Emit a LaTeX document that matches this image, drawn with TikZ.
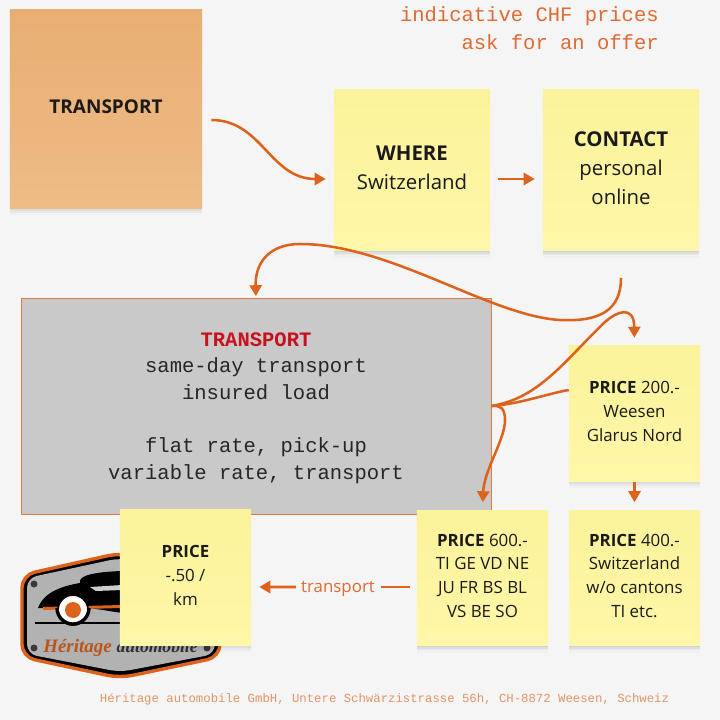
\documentclass[tikz,border=0pt]{standalone}
\usepackage{fontspec}
\setmainfont{Open Sans}
\setmonofont{Liberation Mono}
\newfontfamily\logofont{Liberation Serif}
\usetikzlibrary{positioning,arrows.meta,shadows}
\definecolor{hdOrange}{HTML}{DD631D}
\definecolor{hdText}{HTML}{E06A33}
\definecolor{hdFoot}{HTML}{E39468}
\definecolor{hdPaper}{HTML}{F5F5F5}
\definecolor{hdGray}{HTML}{C9C9C9}
\definecolor{hdRed}{HTML}{C8101E}
\definecolor{hdInk}{HTML}{1A1A1A}
\definecolor{noteTop}{HTML}{FBF29B}
\definecolor{noteBot}{HTML}{FFF7A8}
\definecolor{peachTop}{HTML}{E8AE72}
\definecolor{peachBot}{HTML}{EEBC86}
\begin{document}
\begin{tikzpicture}[x=0.025cm,y=-0.025cm,font=\fontsize{12}{17}\selectfont,text=hdInk,
      softshadow/.style={general shadow={shadow yshift=-1pt,fill=black,opacity=.05},
        general shadow={shadow yshift=-2.2pt,fill=black,opacity=.04},
        general shadow={shadow yshift=-3.5pt,fill=black,opacity=.03},
        general shadow={shadow yshift=-5pt,fill=black,opacity=.02}},
      note/.style={softshadow,top color=noteTop,bottom color=noteBot,draw=none,align=center,inner sep=0pt,text depth=3.2pt},
      small/.style={note,minimum width=3.275cm,minimum height=3.375cm},
      large/.style={note,minimum width=3.9cm,minimum height=4.025cm,font=\fontsize{14.5}{20.6}\selectfont},
      conn/.style={-{Triangle[length=7.8pt,width=8.6pt]},hdOrange,line width=1.8pt},
      plain/.style={hdOrange,line width=1.8pt},
      mono/.style={font=\ttfamily\fontsize{14.6}{19}\selectfont,align=center}]
      \fill[hdPaper] (0,0) rectangle (720,720);
      \useasboundingbox (0,0) rectangle (720,720);
      % logo
      \draw[rounded corners=9pt,draw=hdOrange,line width=2.4pt,fill=black] (22,575)--(120,553)--(220,575)--(220,657)--(120,678)--(22,657)--cycle;
      \fill[rounded corners=7pt,fill=gray!60] (27,578)--(120,558)--(215,578)--(215,654)--(120,672)--(27,654)--cycle;
      \fill[black] (38,608) .. controls (44,592) and (62,586) .. (80,583) .. controls (78,576) and (92,572) .. (122,571) -- (122,613) -- (90,608) -- (55,608) -- cycle;
      \fill[gray!40] (90,587) -- (122,585) -- (122,590) -- (96,591) -- cycle;
      \fill[hdOrange] (43,607) -- (122,605) -- (122,608) -- (43,610) -- cycle;
      \draw[black,line width=1.3pt] (35,623)--(122,623);
      \draw[black,line width=1.2pt,fill=white] (73,610) circle (15);
      \fill[hdOrange] (73,610) circle (8);
      \draw[black,line width=2.4pt] (57,608) arc[start angle=180,end angle=0,radius=16];
      \fill[gray!45!black] (34,584) circle (3.5) (34,648) circle (3.5) (207,648) circle (3.5);
      \node[font=\logofont\bfseries\itshape\fontsize{13.5}{14}\selectfont,text=hdOrange!85!black,anchor=west,inner sep=0pt] (logotext) at (43,648) {Héritage \fontsize{12.5}{12}\selectfont\textcolor{black!80}{automobile}};
      % boxes
      \node[note,top color=peachTop,bottom color=peachBot,minimum width=4.8cm,minimum height=4.95cm,font=\bfseries\fontsize{13.5}{17}\selectfont,text depth=3pt] (start) at (106,109) {TRANSPORT};
      \node[large] (where) at (412,170) {\textbf{WHERE}\\Switzerland};
      \node[large] (contact) at (621,170) {\textbf{CONTACT}\\personal\\online};
      \node[mono,draw=hdOrange!85,fill=hdGray,line width=0.6pt,minimum width=11.75cm,minimum height=5.4cm,inner sep=0pt,text=black!85,text depth=0pt] (info) at (256,406) {\textbf{\textcolor{hdRed}{TRANSPORT}}\\same-day transport\\insured load\\[19pt]flat rate, pick-up\\variable rate, transport};
      \node[small] (pweesen) at (634.5,413.5) {\textbf{PRICE} 200.-\\Weesen\\Glarus Nord};
      \node[small] (pswiss) at (634.5,578) {\textbf{PRICE} 400.-\\Switzerland\\w/o cantons\\TI etc.};
      \node[small] (pcantons) at (482.5,578) {\textbf{PRICE} 600.-\\TI GE VD NE\\JU FR BS BL\\VS BE SO};
      \node[small] (pkm) at (185.5,577.5) {\textbf{PRICE}\\-.50 /\\km};
      \node[text=hdText,inner sep=0pt,text depth=0pt] (lbl) at (338,587) {transport};
      % header, footer
      \node[align=right,anchor=north east,text=hdText,inner sep=0pt,font=\ttfamily\fontsize{14.6}{19.9}\selectfont] (head) at (659,6) {indicative CHF prices\\ask for an offer};
      \node[text=hdFoot,inner sep=0pt,font=\ttfamily\fontsize{8.76}{10}\selectfont] (foot) at (384.5,699) {Héritage automobile GmbH, Untere Schwärzistrasse 56h, CH-8872 Weesen, Schweiz};
      % connectors
      \coordinate (contactOut) at (621,278);
      \draw[conn] ([shift={(9,11)}]start.east) .. controls (262,120) and (270,179) .. ([shift={(-8,9)}]where.west);
      \draw[conn] ([shift={(8,9)}]where.east) -- ([shift={(-8,9)}]contact.west);
      \draw[conn,shorten >=1pt] (contactOut) .. controls (621,310) and (600,322) .. (560,320) .. controls (490,316) and (390,244) .. (300,244) .. controls (270,244) and (255,262) .. (info.north);
      \draw[conn,shorten >=5.7pt] (info.east) .. controls (540,398) and (565,360) .. (605,322) .. controls (616,312) and (634,304) .. (pweesen.north);
      \draw[plain] ([shift={(0,-23.5)}]pweesen.west) .. controls (550,393) and (520,404) .. (info.east);
      \draw[conn,shorten >=5.7pt] (info.east) .. controls (500,405) and (505,408) .. (505,420) .. controls (505,440) and (484,470) .. (pcantons.north);
      \draw[conn,shorten >=5.7pt,shorten <=0.7pt] (pweesen.south) -- (pswiss.north);
      \draw[plain] ([shift={(-7,9)}]pcantons.west) -- ([shift={(6,0)}]lbl.east);
      \draw[conn] ([shift={(-5,0)}]lbl.west) -- ([shift={(8,9.5)}]pkm.east);
    \end{tikzpicture}
\end{document}
